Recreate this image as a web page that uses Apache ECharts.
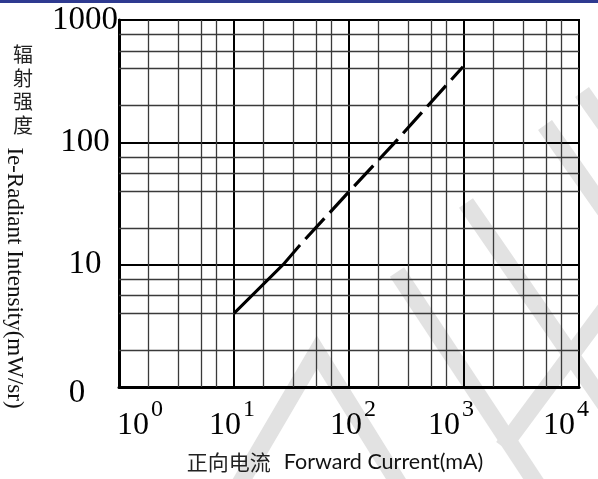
<!DOCTYPE html>
<html>
<head>
<meta charset="utf-8">
<script src="https://cdn.jsdelivr.net/npm/echarts@6/dist/echarts.min.js"></script>
<style>
html,body{margin:0;padding:0;background:#fff;}
#chart{width:598px;height:479px;}
</style>
</head>
<body>
<div id="chart"></div>
<script>
// ---- data ----
const currentSolid = [10, 26.7, 37.5];
const intensitySolid = [4, 10, 14.5];
const currentDashed = [37.5, 100, 251, 980];
const intensityDashed = [14.5, 39.5, 100, 415];

// minor grid values
const xMinorValues = [1.8, 3.3, 5.2, 7, 18, 33, 52, 70, 180, 330, 520, 700, 1800, 3300, 5200, 7000];
const yMinorValues = [2, 4, 5.6, 7.6, 20, 40, 56, 76, 200, 400, 560, 760];

// tick labels
const xTickBase = '10';
const xTickExponents = ['0', '1', '2', '3', '4'];
const yTickLabels = ['0', '10', '100', '1000'];

const xAxisTitleCn = '正向电流';
const xAxisTitleEn = 'Forward Current(mA)';
const yAxisTitleCn = '辐射强度';
const yAxisTitleEn = 'Ie-Radiant Intensity(mW/sr)';

// ---- styles ----
const SERIF = 'Liberation Serif';
const xLabelShift = [21, -2, 4, -13, -13];
const xRich = {};
xLabelShift.forEach((s, i) => {
  xRich['b' + i] = {
    fontFamily: SERIF, fontSize: 32, color: '#000', lineHeight: 44, verticalAlign: 'bottom',
    padding: [0, 0, 0, s > 0 ? 2 * s : 0]
  };
  xRich['s' + i] = {
    fontFamily: SERIF, fontSize: 24, color: '#000', lineHeight: 22, verticalAlign: 'top',
    padding: [0, s < 0 ? -2 * s : 0, 0, 2]
  };
});

const wm = { stroke: '#e2e2e2', lineWidth: 17, fill: null, lineJoin: 'miter', lineCap: 'butt' };
function band(points) {
  return { type: 'polyline', silent: true, z: -5, shape: { points: points }, style: Object.assign({}, wm) };
}

const chart = echarts.init(document.getElementById('chart'), null, { renderer: 'canvas' });
const option = {
  animation: false,
  backgroundColor: '#fff',
  grid: {
    left: 119, right: 19, top: 20, bottom: 92,
    show: true, borderColor: '#000', borderWidth: 2, backgroundColor: 'transparent',
    containLabel: false, outerBoundsMode: 'none'
  },
  xAxis: {
    type: 'log', logBase: 10, min: 1, max: 10000,
    axisLine: { show: true, onZero: false, lineStyle: { color: '#000', width: 3 } },
    axisTick: { show: false },
    splitLine: { show: true, lineStyle: { color: '#000', width: 2 } },
    axisLabel: {
      margin: 11, showMinLabel: true, showMaxLabel: true,
      formatter: function (v) {
        const i = Math.round(Math.log10(v));
        return '{b' + i + '|' + xTickBase + '}{s' + i + '|' + xTickExponents[i] + '}';
      },
      rich: xRich
    },
    name: '{cn|' + xAxisTitleCn + '}{en|' + xAxisTitleEn + '}',
    nameLocation: 'middle', nameGap: 62,
    nameTextStyle: {
      padding: [0, 28, 0, 0],
      rich: {
        cn: { fontFamily: 'Noto Sans CJK SC', fontSize: 21, color: '#222', lineHeight: 26 },
        en: { fontFamily: 'Lato', fontSize: 21.5, color: '#111', lineHeight: 26, padding: [0, 0, 0, 13] }
      }
    }
  },
  yAxis: {
    type: 'log', logBase: 10, min: 1, max: 1000,
    axisLine: { show: true, onZero: false, lineStyle: { color: '#000', width: 3 } },
    axisTick: { show: false },
    splitLine: { show: true, lineStyle: { color: '#000', width: 2 } },
    axisLabel: {
      margin: 34, align: 'center', showMinLabel: true, showMaxLabel: true,
      formatter: function (v) {
        const i = Math.round(Math.log10(v));
        return (i === 0 ? '{z|' : '{n|') + yTickLabels[i] + '}';
      },
      rich: {
        n: { fontFamily: SERIF, fontSize: 33, color: '#000' },
        z: { fontFamily: SERIF, fontSize: 33, color: '#000', padding: [12, 16, 0, 0] }
      }
    }
  },
  graphic: [
    { type: 'rect', silent: true, z: 100, shape: { x: 0, y: 0, width: 598, height: 3 }, style: { fill: '#2e3a90' } },
    band([[235, 492], [317, 352], [404, 492]]),
    band([[397, 272], [542, 492]]),
    band([[503, 447], [606, 308]]),
    band([[466, 203], [606, 406]]),
    band([[545, 125], [606, 212]]),
    band([[582, 92], [606, 126]]),
    {
      type: 'text', x: 23, y: 43, silent: true,
      style: {
        text: yAxisTitleCn.split('').join('\n'), fontFamily: 'Noto Sans CJK SC', fontSize: 20,
        lineHeight: 23.5, align: 'center', verticalAlign: 'top', fill: '#222'
      }
    },
    {
      type: 'text', x: 14, y: 278, rotation: -Math.PI / 2, silent: true,
      style: {
        text: yAxisTitleEn, fontFamily: SERIF, fontSize: 23,
        align: 'center', verticalAlign: 'middle', fill: '#111'
      }
    }
  ],
  series: [
    {
      name: 'solid', type: 'line', symbol: 'none', silent: true,
      data: currentSolid.map((x, i) => [x, intensitySolid[i]]),
      lineStyle: { color: '#000', width: 3 },
      markLine: {
        silent: true, z: 1, symbol: ['none', 'none'], label: { show: false },
        lineStyle: { color: '#3a3a3a', width: 1.3, type: 'solid' },
        emphasis: { disabled: true },
        data: xMinorValues.map(v => ({ xAxis: v })).concat(yMinorValues.map(v => ({ yAxis: v })))
      }
    },
    {
      name: 'dashed', type: 'line', symbol: 'none', silent: true,
      data: currentDashed.map((x, i) => [x, intensityDashed[i]]),
      lineStyle: { color: '#000', width: 3.2, type: [28, 8], dashOffset: 28 }
    }
  ]
};
chart.setOption(option);
</script>
</body>
</html>
